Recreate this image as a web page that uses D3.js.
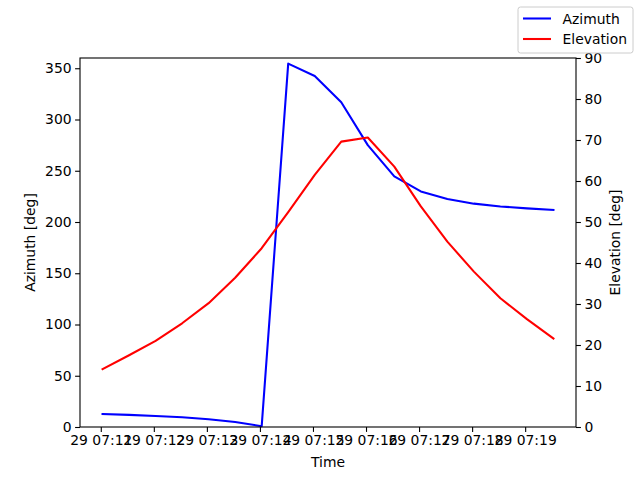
<!DOCTYPE html>
<html>
<head>
<meta charset="utf-8">
<script src="https://cdn.jsdelivr.net/npm/d3@7"></script>
<style>
  body { margin: 0; background: #fff; }
  svg { display: block; font-family: "DejaVu Sans", sans-serif; }
</style>
</head>
<body>
<svg id="chart" width="640" height="480"></svg>
<script>
// samples every 30 s starting 29th 07:11:02
const startTime = "2024-01-29T07:11:02Z";
const stepSeconds = 30;
const azimuth = [12.6, 11.8, 10.8, 9.5, 7.6, 4.8, 0.8, 354.5, 342.5, 316.8, 275.0, 244.5,
  229.8, 222.4, 217.9, 215.2, 213.3, 211.7];
const elevation = [14.1, 17.5, 21.0, 25.3, 30.2, 36.4, 43.6, 52.4, 61.5, 69.6, 70.6, 63.5,
  53.8, 45.2, 37.9, 31.4, 26.3, 21.6];
const azTicks = [0, 50, 100, 150, 200, 250, 300, 350];
const elTicks = [0, 10, 20, 30, 40, 50, 60, 70, 80, 90];
const seriesNames = ["Azimuth", "Elevation"];
const seriesColors = ["#0000ff", "#ff0000"];

const t0 = new Date(startTime);
const times = azimuth.map((_, i) => new Date(t0.getTime() + i * stepSeconds * 1000));

const svg = d3.select("#chart");
const margin = { top: 58, right: 64, bottom: 53, left: 80 };
const width = 640 - margin.left - margin.right;
const height = 480 - margin.top - margin.bottom;

const g = svg.append("g").attr("transform", `translate(${margin.left},${margin.top})`);

// x scale with matplotlib-like 5% padding
const tExtent = d3.extent(times);
const pad = (tExtent[1] - tExtent[0]) * 0.05;
const x = d3.scaleUtc()
  .domain([new Date(tExtent[0] - pad), new Date(+tExtent[1] + pad)])
  .range([0, width]);
const yAz = d3.scaleLinear().domain([0, 360]).range([height, 0]);
const yEl = d3.scaleLinear().domain([0, 90]).range([height, 0]);

const minuteTicks = d3.utcMinute.range(d3.utcMinute.ceil(x.domain()[0]), x.domain()[1]);

const styleAxis = (sel) => {
  sel.selectAll("text").attr("font-size", 13.9).attr("fill", "#000")
    .attr("font-family", "DejaVu Sans, sans-serif");
  sel.selectAll("line").attr("stroke", "#000").attr("stroke-width", 1.1);
  sel.select(".domain").remove();
};

g.append("g")
  .attr("transform", `translate(0,${height})`)
  .call(d3.axisBottom(x).tickValues(minuteTicks).tickFormat(d3.utcFormat("%d %H:%M"))
    .tickSize(4.9).tickPadding(3.5))
  .call(styleAxis);

g.append("g")
  .call(d3.axisLeft(yAz).tickValues(azTicks).tickSize(4.9).tickPadding(3.5))
  .call(styleAxis);

g.append("g")
  .attr("transform", `translate(${width},0)`)
  .call(d3.axisRight(yEl).tickValues(elTicks).tickSize(4.9).tickPadding(3.5))
  .call(styleAxis);

// lines
const azLine = d3.line().x((d, i) => x(times[i])).y(d => yAz(d));
const elLine = d3.line().x((d, i) => x(times[i])).y(d => yEl(d));

g.append("path").datum(azimuth)
  .attr("fill", "none").attr("stroke", seriesColors[0]).attr("stroke-width", 2.08)
  .attr("stroke-linejoin", "round").attr("stroke-linecap", "square")
  .attr("d", azLine);
g.append("path").datum(elevation)
  .attr("fill", "none").attr("stroke", seriesColors[1]).attr("stroke-width", 2.08)
  .attr("stroke-linejoin", "round").attr("stroke-linecap", "square")
  .attr("d", elLine);

// frame
g.append("rect").attr("width", width).attr("height", height)
  .attr("fill", "none").attr("stroke", "#000").attr("stroke-width", 1.1);

// axis labels
svg.append("text")
  .attr("x", margin.left + width / 2).attr("y", 467)
  .attr("text-anchor", "middle").attr("font-size", 13.9).text("Time");
svg.append("text")
  .attr("transform", `translate(35,${margin.top + height / 2}) rotate(-90)`)
  .attr("text-anchor", "middle").attr("font-size", 13.9).text("Azimuth [deg]");
svg.append("text")
  .attr("transform", `translate(620,${margin.top + height / 2}) rotate(-90)`)
  .attr("text-anchor", "middle").attr("font-size", 13.9).text("Elevation [deg]");

// figure legend, upper right
const legend = svg.append("g").attr("transform", "translate(518,7)");
legend.append("rect")
  .attr("width", 115).attr("height", 46).attr("rx", 2.5)
  .attr("fill", "#fff").attr("fill-opacity", 0.8)
  .attr("stroke", "#cccccc").attr("stroke-width", 1);
seriesNames.forEach((name, i) => {
  const yy = 11.5 + i * 20.5;
  legend.append("line")
    .attr("x1", 5).attr("x2", 33).attr("y1", yy).attr("y2", yy)
    .attr("stroke", seriesColors[i]).attr("stroke-width", 2.08);
  legend.append("text")
    .attr("x", 44.5).attr("y", yy).attr("dy", "0.36em")
    .attr("font-size", 13.9).text(name);
});
</script>
</body>
</html>
